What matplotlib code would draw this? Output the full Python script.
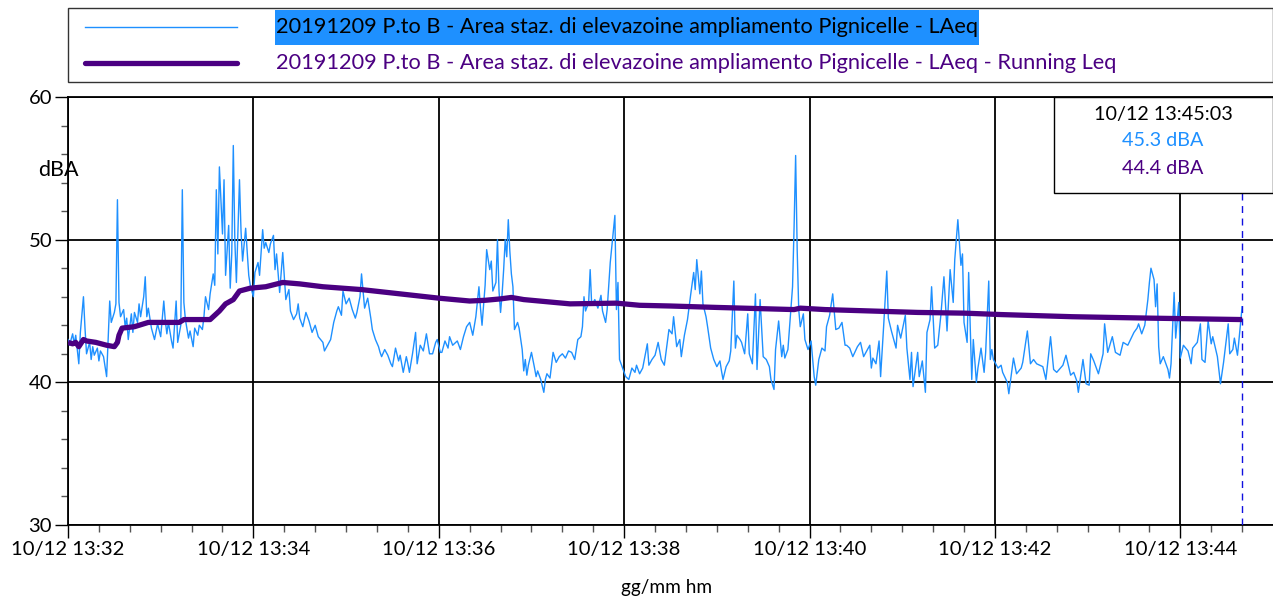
import matplotlib.pyplot as plt
from matplotlib.patches import Rectangle
from matplotlib.lines import Line2D

plt.rcParams['font.family'] = ['Lato', 'DejaVu Sans']

# seconds after 10/12 13:32:00
laeq_t = [0, 1, 3, 4, 5, 7, 8, 10, 11, 12, 14, 15, 16, 17, 19, 20, 21, 23, 25, 27,
          28, 30, 31, 32, 33, 34, 36, 37, 38, 39, 41, 42, 43, 45, 46, 47, 49, 50, 51, 52,
          54, 56, 58, 60, 62, 63, 64, 65, 67, 68, 70, 71, 73, 74, 75, 76, 78, 79, 81, 82,
          84, 85, 87, 88, 89, 91, 92, 94, 95, 96, 97, 98, 100, 101, 102, 104, 105, 106, 107, 108,
          109, 111, 112, 113, 115, 117, 118, 120, 121, 123, 124, 126, 127, 128, 130, 131, 133, 134, 135, 137,
          139, 141, 143, 144, 146, 148, 149, 150, 152, 154, 156, 158, 160, 162, 165, 166, 168, 170, 172, 174,
          175, 177, 178, 180, 182, 184, 186, 187, 189, 190, 192, 194, 196, 197, 199, 201, 202, 203, 205, 207,
          209, 210, 212, 214, 215, 217, 219, 220, 221, 223, 225, 226, 228, 230, 232, 234, 236, 238, 239, 241,
          242, 244, 246, 247, 249, 252, 254, 256, 258, 260, 262, 264, 266, 267, 268, 270, 271, 273, 274, 275,
          277, 278, 279, 280, 281, 282, 283, 284, 285, 286, 287, 288, 289, 291, 292, 294, 295, 296, 297, 298,
          300, 302, 303, 304, 306, 308, 309, 310, 312, 314, 316, 318, 320, 322, 324, 326, 328, 329, 330, 332,
          333, 334, 335, 337, 338, 339, 341, 343, 345, 346, 348, 349, 351, 352, 354, 355, 356, 357, 359, 361,
          363, 365, 367, 368, 370, 372, 375, 376, 378, 380, 382, 384, 386, 389, 391, 392, 394, 396, 397, 399,
          401, 403, 405, 406, 407, 409, 410, 411, 413, 414, 416, 418, 420, 422, 423, 424, 426, 428, 429, 431,
          432, 433, 435, 436, 438, 440, 441, 443, 445, 446, 448, 450, 452, 454, 455, 457, 458, 460, 462, 463,
          464, 466, 469, 470, 471, 472, 473, 474, 476, 477, 479, 481, 483, 484, 486, 488, 490, 491, 493, 495,
          497, 499, 501, 503, 504, 506, 508, 511, 513, 515, 517, 519, 520, 521, 523, 525, 526, 528, 530, 531,
          533, 536, 537, 539, 542, 543, 545, 546, 547, 550, 551, 553, 555, 556, 558, 559, 561, 563, 565, 567,
          569, 571, 573, 574, 576, 578, 579, 580, 582, 583, 585, 586, 588, 589, 591, 593, 594, 596, 597, 598,
          599, 602, 604, 605, 608, 609, 612, 614, 617, 618, 621, 623, 625, 627, 631, 633, 636, 638, 640, 644,
          646, 649, 651, 653, 654, 657, 659, 661, 662, 664, 667, 670, 671, 673, 676, 678, 681, 683, 686, 690,
          692, 693, 695, 697, 699, 700, 701, 703, 704, 705, 706, 707, 709, 712, 713, 714, 716, 717, 719, 720,
          722, 725, 727, 728, 731, 733, 734, 736, 738, 740, 741, 744, 746, 748, 751, 752, 754, 755, 757, 758,
          760]

laeq = [43.0, 42.6, 43.4, 42.7, 43.3, 41.3, 43.5, 46.0, 43.8, 42.0, 42.8, 41.6, 42.5, 41.9, 42.4, 41.5, 42.2, 41.8, 40.4, 45.7,
        44.2, 44.9, 45.5, 52.8, 45.6, 44.6, 45.1, 43.9, 44.5, 43.0, 44.8, 43.5, 44.9, 44.2, 45.5, 44.6, 46.0, 47.4, 44.6, 45.2,
        43.8, 43.0, 44.1, 43.2, 45.7, 44.3, 43.4, 44.2, 42.9, 42.4, 45.7, 42.8, 44.0, 53.5, 45.6, 44.4, 43.1, 43.6, 42.5, 43.8,
        43.3, 44.0, 43.7, 44.6, 46.0, 45.1, 46.2, 47.6, 46.8, 53.5, 49.0, 55.1, 50.4, 54.2, 47.5, 51.0, 46.6, 49.0, 56.6, 49.9,
        47.0, 54.2, 50.6, 48.5, 50.8, 47.5, 46.8, 46.0, 47.7, 48.4, 47.5, 50.7, 49.4, 49.8, 49.1, 49.7, 50.3, 47.9, 49.0, 46.3,
        49.1, 45.8, 46.5, 45.0, 44.4, 44.8, 45.5, 44.5, 43.9, 44.9, 44.3, 43.5, 44.0, 43.2, 42.8, 42.2, 42.6, 43.0, 44.2, 45.0,
        45.3, 44.7, 46.4, 45.5, 45.9, 45.1, 44.5, 44.9, 46.0, 47.6, 45.2, 45.9, 44.5, 43.7, 43.0, 42.5, 42.1, 41.8, 42.3, 41.9,
        41.3, 41.1, 42.4, 41.5, 41.9, 40.7, 41.8, 41.3, 40.7, 42.0, 43.5, 41.3, 42.6, 42.2, 43.4, 42.0, 42.0, 42.8, 43.0, 42.1,
        42.1, 42.9, 42.4, 43.2, 42.6, 42.9, 42.3, 43.2, 43.9, 44.2, 43.3, 44.6, 46.7, 45.2, 44.0, 46.8, 49.3, 47.9, 48.5, 46.4,
        47.0, 50.0, 46.4, 44.9, 46.2, 47.9, 50.0, 48.8, 51.4, 49.2, 47.6, 46.7, 43.7, 44.2, 43.8, 42.3, 40.8, 41.6, 40.5, 41.2,
        42.1, 41.0, 40.4, 40.8, 40.2, 39.3, 40.2, 40.6, 40.3, 42.1, 41.4, 41.8, 42.0, 41.7, 42.2, 42.1, 41.6, 42.3, 43.0, 43.2,
        43.9, 46.0, 45.0, 45.6, 47.9, 45.4, 45.8, 45.2, 46.1, 45.0, 44.2, 45.1, 48.4, 49.5, 51.7, 45.1, 47.0, 41.6, 41.0, 40.4,
        40.2, 41.0, 40.7, 41.2, 40.6, 41.0, 42.7, 41.2, 41.6, 41.9, 42.8, 41.6, 41.2, 43.7, 43.4, 44.6, 42.5, 43.0, 41.8, 43.3,
        44.4, 46.1, 47.7, 46.5, 48.6, 46.2, 47.8, 45.5, 44.6, 43.9, 42.4, 41.6, 41.1, 41.5, 40.8, 40.2, 41.1, 41.5, 42.2, 47.1,
        42.4, 43.3, 43.0, 42.8, 42.0, 44.8, 42.0, 41.3, 46.2, 40.9, 45.8, 41.8, 41.6, 41.1, 40.2, 39.5, 42.3, 44.3, 41.8, 42.6,
        41.7, 42.3, 46.7, 50.9, 55.9, 49.3, 45.1, 43.9, 44.8, 43.0, 42.3, 42.9, 40.4, 39.8, 41.6, 42.4, 42.2, 43.9, 44.7, 46.2,
        43.7, 43.8, 44.2, 42.6, 42.6, 42.4, 41.8, 42.5, 42.8, 41.8, 42.2, 42.6, 41.0, 41.7, 41.3, 42.9, 40.4, 44.0, 47.8, 44.5,
        43.6, 42.4, 44.0, 43.1, 44.7, 42.4, 40.2, 42.1, 39.7, 42.1, 40.4, 41.5, 39.3, 43.5, 44.4, 46.7, 42.4, 42.6, 44.7, 47.4,
        43.6, 47.9, 45.6, 48.6, 51.4, 48.2, 49.0, 44.2, 42.8, 47.7, 40.2, 43.0, 40.0, 41.0, 42.4, 40.7, 42.1, 47.1, 41.6, 42.3,
        41.6, 41.0, 41.2, 40.7, 40.0, 39.2, 41.7, 40.6, 41.0, 41.4, 43.6, 41.3, 41.6, 41.3, 41.1, 40.2, 43.2, 40.9, 40.7, 41.2,
        41.9, 40.5, 40.7, 40.1, 39.3, 41.6, 39.9, 39.8, 42.0, 41.5, 40.6, 42.0, 44.1, 42.1, 43.2, 42.1, 41.9, 42.8, 42.6, 43.5,
        43.8, 44.1, 43.4, 44.0, 45.8, 47.0, 48.0, 47.2, 45.3, 46.9, 42.5, 41.3, 41.8, 40.9, 40.3, 41.3, 46.3, 43.1, 45.6, 41.7,
        42.6, 42.2, 41.3, 42.4, 42.8, 44.1, 41.6, 41.4, 44.3, 42.7, 43.2, 41.8, 39.9, 41.4, 44.1, 42.0, 42.3, 43.1, 41.9, 43.0,
        45.3]

run_t = [0, 3, 5, 7, 10, 12, 18, 25, 30, 32, 33, 35, 43, 52, 60, 72, 75, 85, 92, 98,
         102, 107, 111, 118, 128, 139, 150, 165, 190, 215, 240, 260, 270, 280, 287, 295, 325, 355, 370, 390,
         420, 470, 474, 490, 550, 580, 604, 650, 700, 760]
run_leq = [42.8, 42.7, 42.8, 42.5, 43.0, 42.9, 42.8, 42.6, 42.5, 42.8, 43.3, 43.8, 43.9, 44.2, 44.2, 44.2, 44.4, 44.4, 44.4, 45.0,
           45.5, 45.8, 46.4, 46.6, 46.7, 47.0, 46.9, 46.7, 46.5, 46.2, 45.9, 45.7, 45.75, 45.85, 45.95, 45.8, 45.5, 45.55, 45.4, 45.35,
           45.25, 45.1, 45.2, 45.1, 44.9, 44.85, 44.75, 44.6, 44.5, 44.4]

tick_t = [0, 120, 240, 360, 480, 600, 720]
tick_labels = ['10/12 13:32', '10/12 13:34', '10/12 13:36', '10/12 13:38',
               '10/12 13:40', '10/12 13:42', '10/12 13:44']
cursor_t = 760

name = '20191209 P.to B - Area staz. di elevazoine ampliamento Pignicelle - LAeq'
c_laeq = '#1E90FF'
c_run = '#4B0082'

W, H = 1273, 601
fig = plt.figure(figsize=(W / 100, H / 100), dpi=100)
ax = fig.add_axes([68 / W, 1 - 525 / H, (1273 - 68) / W, (525 - 97) / H])

ax.plot(laeq_t, laeq, color=c_laeq, lw=1.0, zorder=3)
ax.plot(run_t, run_leq, color=c_run, lw=3.8, zorder=4, solid_capstyle='butt')

ax.set_xlim(0, 780)
ax.set_ylim(30, 60)
ax.set_xticks(tick_t)
ax.set_xticklabels(tick_labels)
ax.set_xticks(range(0, 780, 20), minor=True)
ax.set_yticks([30, 40, 50, 60])
ax.set_yticks(range(30, 61, 2), minor=True)
ax.tick_params(which='major', length=9.5, width=1, color='black', labelsize=14.6, pad=2)
ax.tick_params(which='minor', length=5, width=1, color='#555555')
ax.grid(True, which='major', color='black', lw=1.3, zorder=1)
ax.spines['right'].set_visible(False)
for s in ['left', 'bottom', 'top']:
    ax.spines[s].set_linewidth(1.3)

# cursor
ax.axvline(cursor_t, ymin=0, ymax=(525 - 193) / (525 - 97), color='#1010E0',
           lw=1, dashes=(5, 4), zorder=5)
fig.patches.append(Rectangle((1054 / W, 1 - 193 / H), (1273 - 1054) / W, 96 / H,
                             transform=fig.transFigure, facecolor='white',
                             edgecolor='black', lw=1, zorder=5))
fig.text(1163 / W, 1 - 114 / H, '10/12 13:45:03', ha='center', va='center', fontsize=14.2, zorder=6)
fig.text(1163 / W, 1 - 141 / H, '45.3 dBA', ha='center', va='center', fontsize=14.2, color=c_laeq, zorder=6)
fig.text(1163 / W, 1 - 168 / H, '44.4 dBA', ha='center', va='center', fontsize=14.2, color=c_run, zorder=6)

# legend box
fig.patches.append(Rectangle((68 / W, 1 - 82 / H), (1273 - 68) / W, 74 / H,
                             transform=fig.transFigure, facecolor='white',
                             edgecolor='#333333', lw=1))
fig.lines.append(Line2D([85 / W, 237 / W], [1 - 27 / H, 1 - 27 / H], transform=fig.transFigure,
                        color=c_laeq, lw=1.0))
fig.lines.append(Line2D([85 / W, 237 / W], [1 - 63 / H, 1 - 63 / H], transform=fig.transFigure,
                        color=c_run, lw=3.8, solid_capstyle='round'))
t1 = fig.text(276 / W, 1 - 27 / H, name, ha='left', va='center', fontsize=15.7, zorder=3)
fig.text(276 / W, 1 - 63 / H, name + ' - Running Leq', ha='left', va='center',
         fontsize=15.7, color=c_run, zorder=3)

# selection highlight behind the first legend label
fig.canvas.draw()
bb = t1.get_window_extent()
fig.patches.append(Rectangle(((bb.x0 - 1) / W, 1 - 45 / H), (bb.width + 2) / W, 35 / H,
                             transform=fig.transFigure, facecolor=c_laeq,
                             edgecolor='none', zorder=2))

fig.text(38 / W, 1 - 170 / H, 'dBA', ha='left', va='center', fontsize=15.5)
fig.text(667 / W, 1 - 587 / H, 'gg/mm hm', ha='center', va='center', fontsize=13.7)

fig.savefig('out.png', dpi=100)
